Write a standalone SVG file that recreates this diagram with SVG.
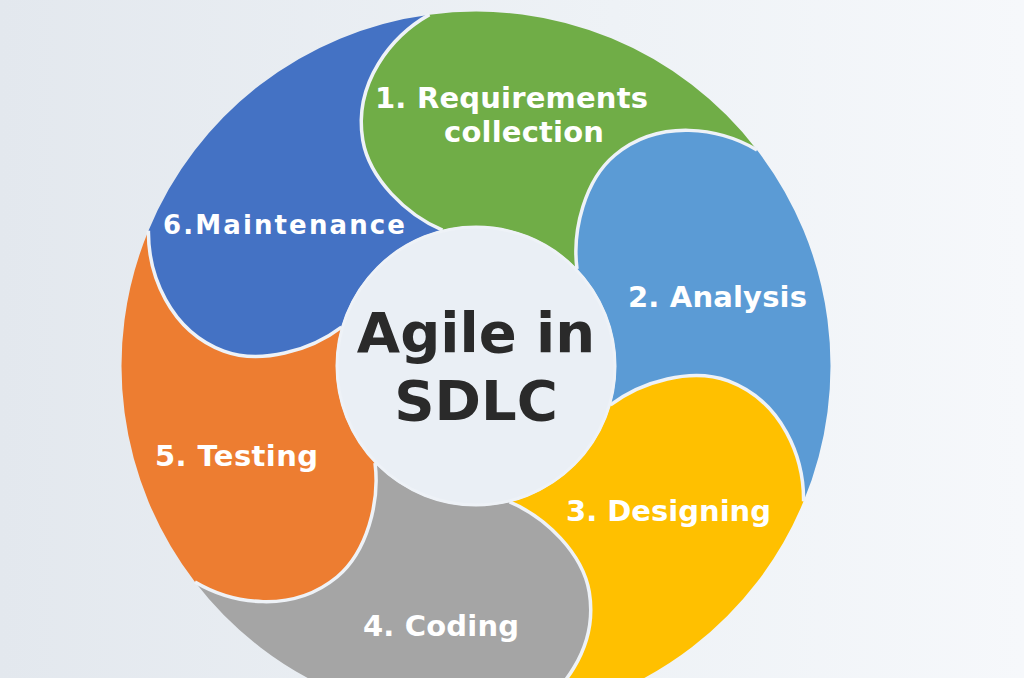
<svg xmlns="http://www.w3.org/2000/svg" xmlns:xlink="http://www.w3.org/1999/xlink" width="1024" height="678" viewBox="0 0 1024 678">
  <defs>
    <linearGradient id="bg" x1="0" y1="0" x2="1" y2="0">
      <stop offset="0" stop-color="#e3e8ee"/>
      <stop offset="0.6" stop-color="#eef2f6"/>
      <stop offset="1" stop-color="#f6f8fb"/>
    </linearGradient>
    <path id="petal" d="M 757,150 A 354 354 0 0 1 803.6,501.3 C 804.1,458.3 782.8,401.3 728.2,380.9 C 691.6,367.4 641.8,381.1 610.5,405 A 140 140 0 0 0 577,269 C 572,230 585,180 615,155 C 660,118 720,128 757,150 Z"/>
    <path id="seam" d="M 757,150 C 720,128 660,118 615,155 C 585,180 572,230 577,269"/>
    <style>
      .sep { fill: none; stroke: #eef2f7; stroke-width: 3.5; stroke-linecap: butt; }
      .lbl { font-family: "DejaVu Sans", Verdana, sans-serif; font-weight: bold; font-size: 29px; fill: #ffffff; }
      .title { font-family: "DejaVu Sans", Verdana, sans-serif; font-weight: bold; font-size: 56px; fill: #2a2a2a; text-anchor: middle; }
    </style>
  </defs>
  <rect x="0" y="0" width="1024" height="678" fill="url(#bg)"/>

  <g id="node-1-requirements">
    <use xlink:href="#petal" href="#petal" fill="#70ad47" transform="rotate(-60 476 366)"/>
    <text class="lbl" x="375" y="108" textLength="273" lengthAdjust="spacing">1. Requirements</text>
    <text class="lbl" x="444" y="142" textLength="160" lengthAdjust="spacing">collection</text>
  </g>
  <g id="node-2-analysis">
    <use xlink:href="#petal" href="#petal" fill="#5b9bd5"/>
    <text class="lbl" x="628" y="307" textLength="179" lengthAdjust="spacing">2. Analysis</text>
  </g>
  <g id="node-3-designing">
    <use xlink:href="#petal" href="#petal" fill="#ffc000" transform="rotate(60 476 366)"/>
    <text class="lbl" x="566" y="521" textLength="205" lengthAdjust="spacing">3. Designing</text>
  </g>
  <g id="node-4-coding">
    <use xlink:href="#petal" href="#petal" fill="#a5a5a5" transform="rotate(120 476 366)"/>
    <text class="lbl" x="363" y="636" textLength="156" lengthAdjust="spacing">4. Coding</text>
  </g>
  <g id="node-5-testing">
    <use xlink:href="#petal" href="#petal" fill="#ed7d31" transform="rotate(180 476 366)"/>
    <text class="lbl" x="155" y="466" textLength="163" lengthAdjust="spacing">5. Testing</text>
  </g>
  <g id="node-6-maintenance">
    <use xlink:href="#petal" href="#petal" fill="#4472c4" transform="rotate(240 476 366)"/>
    <text class="lbl" x="163" y="234" style="font-size:26px" textLength="242" lengthAdjust="spacing">6.Maintenance</text>
  </g>

  <g id="seams">
    <use xlink:href="#seam" href="#seam" class="sep"/>
    <use xlink:href="#seam" href="#seam" class="sep" transform="rotate(60 476 366)"/>
    <use xlink:href="#seam" href="#seam" class="sep" transform="rotate(120 476 366)"/>
    <use xlink:href="#seam" href="#seam" class="sep" transform="rotate(180 476 366)"/>
    <use xlink:href="#seam" href="#seam" class="sep" transform="rotate(240 476 366)"/>
    <use xlink:href="#seam" href="#seam" class="sep" transform="rotate(300 476 366)"/>
  </g>

  <g id="node-center">
    <circle cx="476" cy="366" r="139" fill="#eaeff5" stroke="#eef2f7" stroke-width="3"/>
    <text class="title" x="476" y="352">Agile in</text>
    <text class="title" x="476" y="420">SDLC</text>
  </g>

  <g id="connectors"/>
</svg>
